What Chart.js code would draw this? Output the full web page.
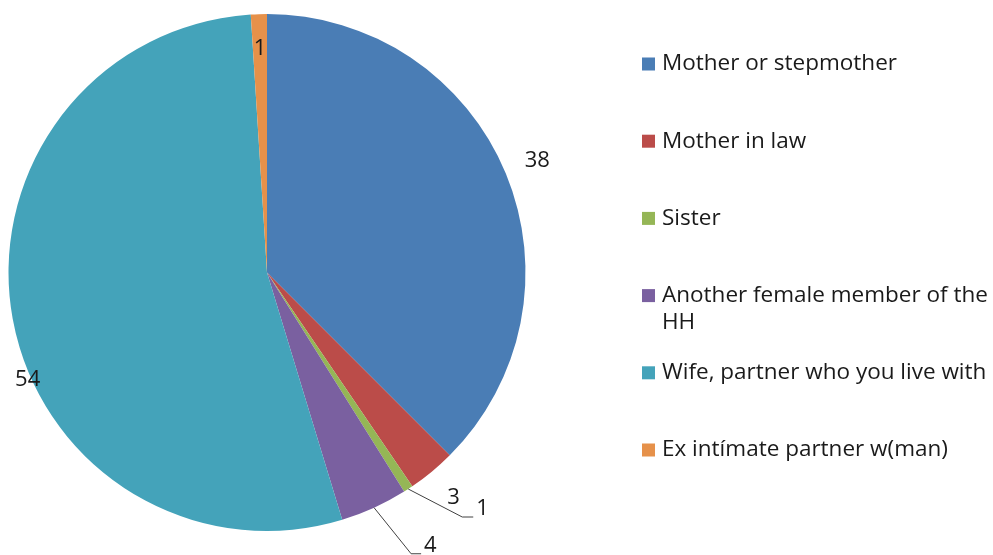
<!DOCTYPE html>
<html><head><meta charset="utf-8">
<script src="https://cdn.jsdelivr.net/npm/chart.js@4"></script>
<style>html,body{margin:0;padding:0;background:#fff}canvas{display:block}</style>
</head><body>
<canvas id="c" width="993" height="555"></canvas>
<script>
const categories = ["Mother or stepmother","Mother in law","Sister","Another female member of the HH","Wife, partner who you live with","Ex intímate partner w(man)"];
const values = [37.5, 3.0, 0.6, 4.2, 53.7, 1.0];
const colors = ["#4A7DB5","#BB4C49","#95B656","#7A60A0","#44A3BA","#E6914A"];

const FONT = '"Open Sans", "Liberation Sans", sans-serif';
// label placement styles (per slice)
const labelStyle = [
  {type:'radial', r:34},
  {type:'radial', r:34},
  {type:'leader', dx:54, dy:28, h:11},
  {type:'leader', dx:37, dy:46, h:10},
  {type:'offset', dx:15, dy:61},
  {type:'radial', r:-35}
];

const labelPlugin = {
  id:'pieLabels',
  afterDatasetsDraw(chart){
    const ctx = chart.ctx;
    const meta = chart.getDatasetMeta(0);
    const ds = chart.data.datasets[0];
    ctx.save();
    ctx.font = '22px ' + FONT;
    ctx.fillStyle = '#1a1a1a';
    ctx.textBaseline = 'middle';
    meta.data.forEach((arc,i)=>{
      const p = arc.getProps(['x','y','startAngle','endAngle','outerRadius'], true);
      const mid = (p.startAngle + p.endAngle)/2;
      const ax = p.x + Math.cos(mid)*p.outerRadius;
      const ay = p.y + Math.sin(mid)*p.outerRadius;
      const txt = String(Math.round(ds.data[i]));
      const st = labelStyle[i];
      if (st.type === 'radial') {
        ctx.textAlign = 'center';
        ctx.fillText(txt, p.x + Math.cos(mid)*(p.outerRadius+st.r), p.y + Math.sin(mid)*(p.outerRadius+st.r));
      } else if (st.type === 'offset') {
        ctx.textAlign = 'center';
        ctx.fillText(txt, ax + st.dx, ay + st.dy);
      } else {
        const bx = ax + st.dx, by = ay + st.dy;
        ctx.strokeStyle = '#404040';
        ctx.lineWidth = 1;
        ctx.beginPath();
        ctx.moveTo(ax, ay);
        ctx.lineTo(bx, by);
        ctx.lineTo(bx + st.h, by);
        ctx.stroke();
        ctx.textAlign = 'left';
        ctx.fillText(txt, bx + st.h + 3, by - 8);
      }
    });
    ctx.restore();
  }
};

const legendPlugin = {
  id:'sideLegend',
  afterDraw(chart){
    const ctx = chart.ctx;
    const labels = chart.data.labels;
    const cols = chart.data.datasets[0].backgroundColor;
    const boxX = 642, box = 13, textX = 662, firstY = 64, step = 77.2, lineH = 27;
    const maxW = chart.width - textX;
    ctx.save();
    ctx.font = '22.5px ' + FONT;
    ctx.textBaseline = 'middle';
    ctx.textAlign = 'left';
    labels.forEach((lab,i)=>{
      const cy = firstY + i*step;
      ctx.fillStyle = cols[i];
      ctx.fillRect(boxX, cy - box/2, box, box);
      const words = lab.split(' ');
      const lines = [];
      let cur = '';
      words.forEach(w=>{
        const t = cur ? cur + ' ' + w : w;
        if (ctx.measureText(t).width > maxW && cur) { lines.push(cur); cur = w; }
        else cur = t;
      });
      lines.push(cur);
      ctx.fillStyle = '#1a1a1a';
      lines.forEach((ln,k)=> ctx.fillText(ln, textX, cy + k*lineH));
    });
    ctx.restore();
  }
};

new Chart(document.getElementById('c'), {
  type:'pie',
  data:{
    labels: categories,
    datasets:[{data: values, backgroundColor: colors, borderWidth: 0}]
  },
  options:{
    responsive:false,
    animation:false,
    layout:{padding:{left:8, top:14, right:467, bottom:24}},
    plugins:{legend:{display:false}, tooltip:{enabled:false}}
  },
  plugins:[labelPlugin, legendPlugin]
});
</script>
</body></html>
